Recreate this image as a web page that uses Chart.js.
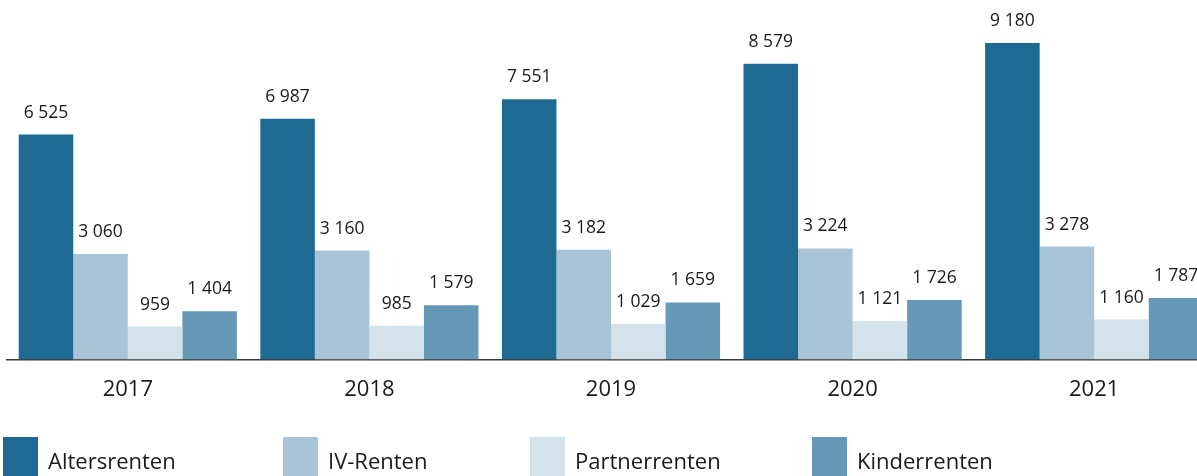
<!DOCTYPE html>
<html>
<head>
<meta charset="utf-8">
<script src="https://cdn.jsdelivr.net/npm/chart.js@4"></script>
<style>
  html, body { margin:0; padding:0; background:#fff; overflow:hidden; width:1197px; height:476px; }
  #wrap { position:absolute; left:0; top:0; width:1215px; height:476px; }
  .leg { position:absolute; top:437px; height:40px; font-family:"Open Sans", sans-serif; font-size:22px; color:#1a1a1a; }
  .leg .sw { position:absolute; left:0; top:0; width:35px; height:40px; }
  .leg .tx { position:absolute; top:10px; white-space:nowrap; line-height:26px; }
</style>
</head>
<body>
<div id="wrap"><canvas id="c"></canvas></div>
<div id="legend"></div>
<script>
(function(){
  const years   = ['2017', '2018', '2019', '2020', '2021'];
  const alters  = [6525, 6987, 7551, 8579, 9180];
  const iv      = [3060, 3160, 3182, 3224, 3278];
  const partner = [959, 985, 1029, 1121, 1160];
  const kinder  = [1404, 1579, 1659, 1726, 1787];

  const names  = ['Altersrenten', 'IV-Renten', 'Partnerrenten', 'Kinderrenten'];
  const colors = ['#1f6a93', '#a8c4d6', '#d4e2eb', '#6698b7'];
  const series = [alters, iv, partner, kinder];

  // thousands with a space: 6 525
  const fmt = v => String(v).replace(/\B(?=(\d{3})+(?!\d))/g, ' ');

  // value labels above every bar
  const valueLabels = {
    id: 'valueLabels',
    afterDatasetsDraw(chart){
      const ctx = chart.ctx;
      ctx.save();
      ctx.font = '17.5px "Open Sans", sans-serif';
      ctx.fillStyle = '#1a1a1a';
      ctx.textAlign = 'center';
      ctx.textBaseline = 'middle';
      chart.data.datasets.forEach((ds, i) => {
        chart.getDatasetMeta(i).data.forEach((bar, j) => {
          ctx.fillText(fmt(ds.data[j]), bar.x, bar.y - 22);
        });
      });
      ctx.restore();
    }
  };

  const ctx = document.getElementById('c').getContext('2d');
  new Chart(ctx, {
    type: 'bar',
    data: {
      labels: years,
      datasets: series.map((d, i) => ({
        label: names[i], data: d, backgroundColor: colors[i], borderWidth: 0,
        categoryPercentage: 0.903, barPercentage: 1
      }))
    },
    options: {
      responsive: true,
      maintainAspectRatio: false,
      animation: false,
      layout: { padding: { left: 7, right: 0, top: 43, bottom: 56 } },
      plugins: { legend: { display: false }, tooltip: { enabled: false } },
      scales: {
        x: {
          grid: { display: false, drawTicks: false },
          border: { display: true, color: '#3a3a3a', width: 1.5 },
          ticks: { color: '#1a1a1a', padding: 17, font: { family: '"Open Sans", sans-serif', size: 22 } }
        },
        y: { display: false, min: 0, max: 9180 }
      }
    },
    plugins: [valueLabels]
  });

  // legend (html, positioned like the reference)
  const legPos = [3, 283, 530, 812];
  document.getElementById('legend').innerHTML = names.map((n, i) =>
    `<div class="leg" style="left:${legPos[i]}px"><div class="sw" style="background:${colors[i]}"></div><div class="tx" style="left:45px">${n}</div></div>`
  ).join('');
})();
</script>
</body>
</html>
